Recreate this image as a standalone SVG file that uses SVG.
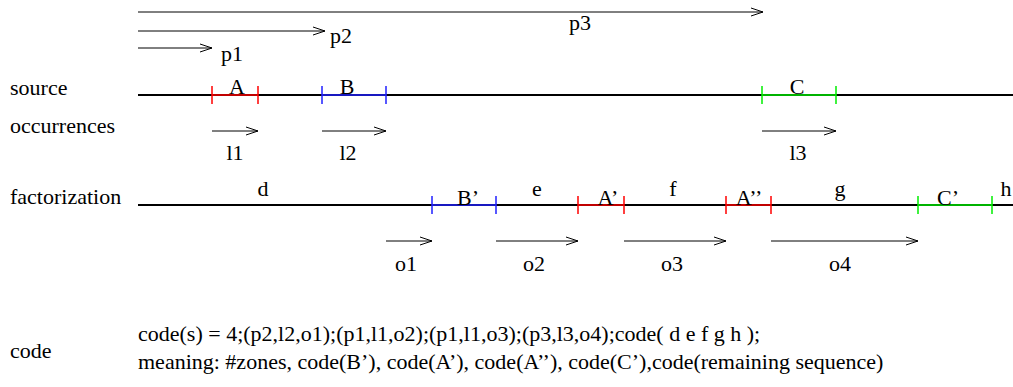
<svg xmlns="http://www.w3.org/2000/svg" width="1013" height="387" viewBox="0 0 1013 387">
<style>
text{font-family:"Liberation Serif","Times New Roman",serif;font-size:22px;fill:#000}
.m{text-anchor:middle}
.base{stroke:#000;stroke-width:2;fill:none}
.arr{stroke:#000;stroke-width:1;fill:none}
.red{stroke:#ff0000;stroke-width:1.5;fill:none}
.blue{stroke:#2020ff;stroke-width:1.5;fill:none}
.green{stroke:#00ee00;stroke-width:1.5;fill:none}
</style>
<defs>
<marker id="ah" markerWidth="14" markerHeight="10" refX="13" refY="5" orient="auto" markerUnits="userSpaceOnUse">
<path d="M1,1 L13,5 L1,9" fill="none" stroke="#000" stroke-width="1"/>
</marker>
</defs>
<g id="labels">
<text x="10" y="95">source</text>
<text x="10" y="133">occurrences</text>
<text x="10" y="204">factorization</text>
<text x="10" y="358">code</text>
</g>
<g id="source-line">
<line class="base" x1="138" y1="95" x2="1013" y2="95"/>
</g>
<g id="A">
<path class="red" d="M212,95 H258 M212,86 V104 M258,86 V104"/>
<text class="m" x="237" y="94">A</text>
</g>
<g id="B">
<path class="blue" d="M322,95 H386 M322,86 V104 M386,86 V104"/>
<text class="m" x="347" y="94">B</text>
</g>
<g id="C">
<path class="green" d="M762,95 H836 M762,86 V104 M836,86 V104"/>
<text class="m" x="797" y="94">C</text>
</g>
<g id="factorization-line">
<line class="base" x1="138" y1="205" x2="1013" y2="205"/>
<text class="m" x="263" y="196">d</text>
<text class="m" x="537" y="196">e</text>
<text class="m" x="673" y="196">f</text>
<text class="m" x="840" y="196">g</text>
<text class="m" x="1006" y="196">h</text>
</g>
<g id="Bp">
<path class="blue" d="M432,205 H496 M432,196 V214 M496,196 V214"/>
<text class="m" x="468" y="205">B’</text>
</g>
<g id="Ap">
<path class="red" d="M578,205 H624 M578,196 V214 M624,196 V214"/>
<text class="m" x="608" y="205">A’</text>
</g>
<g id="App">
<path class="red" d="M726,205 H771 M726,196 V214 M771,196 V214"/>
<text class="m" x="749" y="205">A’’</text>
</g>
<g id="Cp">
<path class="green" d="M918,205 H992 M918,196 V214 M992,196 V214"/>
<text class="m" x="948" y="205">C’</text>
</g>
<g id="connectors">
<line class="arr" x1="138" y1="12" x2="763" y2="12" marker-end="url(#ah)"/>
<line class="arr" x1="138" y1="31" x2="325" y2="31" marker-end="url(#ah)"/>
<line class="arr" x1="138" y1="48" x2="212" y2="48" marker-end="url(#ah)"/>
<line class="arr" x1="212" y1="131" x2="258" y2="131" marker-end="url(#ah)"/>
<line class="arr" x1="322" y1="131" x2="386" y2="131" marker-end="url(#ah)"/>
<line class="arr" x1="762" y1="131" x2="836" y2="131" marker-end="url(#ah)"/>
<line class="arr" x1="386" y1="241" x2="432" y2="241" marker-end="url(#ah)"/>
<line class="arr" x1="496" y1="241" x2="578" y2="241" marker-end="url(#ah)"/>
<line class="arr" x1="624" y1="241" x2="726" y2="241" marker-end="url(#ah)"/>
<line class="arr" x1="771" y1="241" x2="918" y2="241" marker-end="url(#ah)"/>
</g>
<g id="arrow-labels">
<text x="221" y="61">p1</text>
<text x="330" y="43">p2</text>
<text x="569" y="30">p3</text>
<text class="m" x="235" y="160">l1</text>
<text class="m" x="348" y="160">l2</text>
<text class="m" x="798" y="160">l3</text>
<text class="m" x="406" y="271">o1</text>
<text class="m" x="534" y="271">o2</text>
<text class="m" x="672" y="271">o3</text>
<text class="m" x="840" y="271">o4</text>
</g>
<g id="code">
<text x="138" y="341">code(s) = 4;(p2,l2,o1);(p1,l1,o2);(p1,l1,o3);(p3,l3,o4);code( d e f g h );</text>
<text x="138" y="369">meaning: #zones, code(B’), code(A’), code(A’’), code(C’),code(remaining sequence)</text>
</g>
</svg>
